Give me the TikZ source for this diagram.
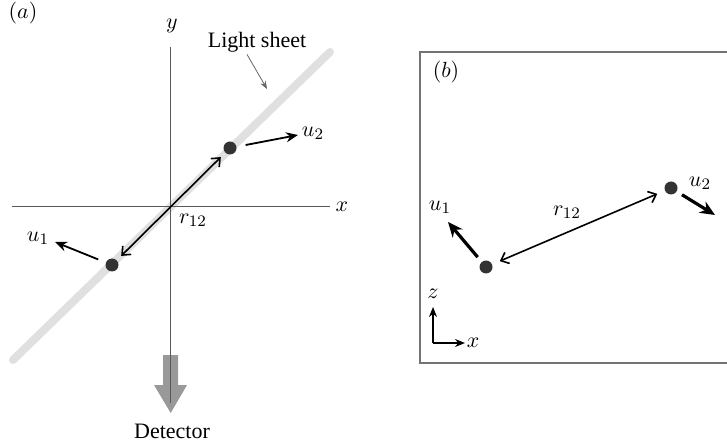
\documentclass[tikz,border=0pt]{standalone}
\usepackage{fontspec}
\setmainfont{Liberation Serif}
\usetikzlibrary{arrows.meta}
\begin{document}
\begin{tikzpicture}[x=0.5pt, y=-0.5pt, >={Stealth[length=6pt,width=5pt]},
  font=\fontsize{11}{13}\selectfont,
  dot/.style={circle, fill=black!80, inner sep=0pt, minimum size=6.5pt},
  lbl/.style={inner sep=1pt},
  axis/.style={black!65, line width=0.7pt},
  sep/.style={{Straight Barb[length=3.5pt,width=6pt]}-{Straight Barb[length=3.5pt,width=6pt]}, line width=0.8pt},
  vel/.style={->, line width=0.9pt},
  velb/.style={-{Stealth[length=7.5pt,width=6.5pt]}, line width=1.6pt}]
  \useasboundingbox (0,0) rectangle (727,448);
  % panel (a)
  \node[lbl] (tagA) at (23,13) {$(a)$};
  \draw[line width=4pt, black!12, line cap=round] (13,360) -- (330,52);
  \fill[black!40] (163,355) -- (178,355) -- (178,385) -- (187,385) -- (170.7,413)
    -- (154,385) -- (163,385) -- cycle;
  \draw[axis] (12,206.7) -- (330,206.7);
  \draw[axis] (170.7,47) -- (170.7,403);
  \node[lbl] (xA) at (342,207) {$x$};
  \node[lbl] (yA) at (172,26) {$y$};
  \node[lbl] (sheet) at (257,42) {Light sheet};
  \coordinate (sheettip) at (267,89);
  \draw[-{Stealth[length=4pt,width=3pt]}, black!60, line width=0.4pt] ([xshift=-5pt]sheet.south) -- (sheettip);
  \node[dot] (p1a) at (112,265) {};
  \node[dot] (p2a) at (230,148) {};
  \draw[sep, shorten <=3pt, shorten >=3pt] (p1a) -- (p2a);
  \node[lbl] (rA) at (193,220) {$r_{12}$};
  \coordinate (u1tipA) at (55,242);
  \coordinate (u2tipA) at (298,135);
  \draw[vel, shorten <=4pt] (p1a) -- (u1tipA);
  \draw[vel, shorten <=4.5pt] (p2a) -- (u2tipA);
  \node[lbl] (u1A) at (38,238) {$u_1$};
  \node[lbl] (u2A) at (313,133) {$u_2$};
  \node[lbl] (det) at (172,431) {Detector};
  % panel (b)
  \draw[black!55, line width=1pt] (730,52) -- (420,52) -- (420,363) -- (730,363);
  \node[lbl] (tagB) at (446,72) {$(b)$};
  \node[dot] (p1b) at (486,267) {};
  \node[dot] (p2b) at (671,188) {};
  \draw[sep, shorten <=4pt, shorten >=4pt] (p1b) -- (p2b);
  \node[lbl] (rB) at (567,212) {$r_{12}$};
  \coordinate (u1tipB) at (448,222);
  \coordinate (u2tipB) at (715,215);
  \draw[velb, shorten <=3pt] (p1b) -- (u1tipB);
  \draw[velb, shorten <=3pt] (p2b) -- (u2tipB);
  \node[lbl] (u1B) at (440,207) {$u_1$};
  \node[lbl] (u2B) at (700,183) {$u_2$};
  \coordinate (cornerB) at (433,343);
  \coordinate (ztip) at (433,307);
  \coordinate (xtip) at (465,343);
  \draw[-{Stealth[length=5pt,width=4pt]}, line width=1pt] (cornerB) -- (ztip);
  \draw[-{Stealth[length=5pt,width=4pt]}, line width=1pt] (cornerB) -- (xtip);
  \node[lbl] (zB) at (433,294) {$z$};
  \node[lbl] (xB) at (473,343) {$x$};
\end{tikzpicture}
\end{document}
